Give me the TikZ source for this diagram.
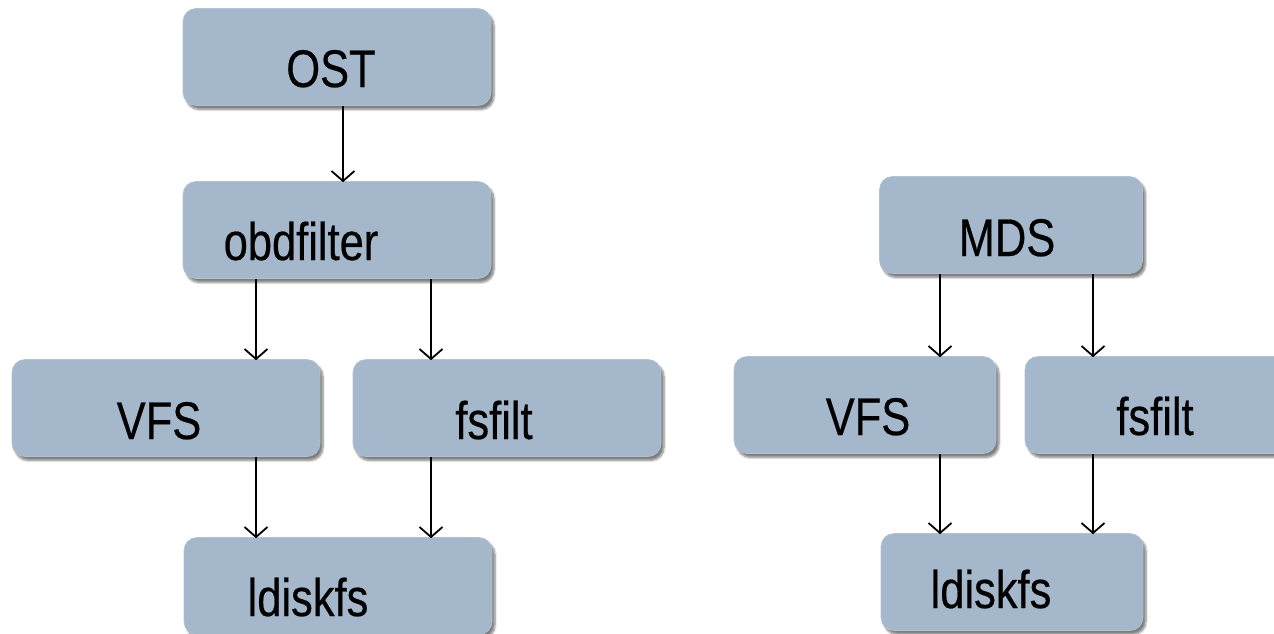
\documentclass[tikz,border=0pt]{standalone}
\usepackage{fontspec}
\setmainfont{Liberation Sans}[FakeStretch=0.82,FakeBold=0.4]
\usetikzlibrary{arrows.meta,shadows.blur}
\definecolor{boxfill}{RGB}{164,183,203}
\begin{document}
\begin{tikzpicture}[x=1pt,y=-1pt,
  blk/.style={rounded corners=13pt, fill=boxfill, draw=boxfill!85!white, line width=0.6pt,
    minimum height=97pt, inner sep=0pt,
    blur shadow={shadow xshift=3pt, shadow yshift=-4pt, shadow blur steps=6, shadow opacity=50}},
  lbl/.style={anchor=base, inner sep=0pt, font=\fontsize{53}{58}\selectfont},
  arr/.style={line width=1.8pt, -{Straight Barb[length=10pt,width=23pt,line width=1.8pt]}}]
\useasboundingbox (0,0) rectangle (1274,634);
% left group
\node[blk, minimum width=308pt] (ost) at (337,57) {};
\node[blk, minimum width=308pt] (obd) at (337,230) {};
\node[blk, minimum width=308pt] (vfsL) at (166,408) {};
\node[blk, minimum width=308pt] (fsL) at (507,408) {};
\node[blk, minimum width=308pt] (ldL) at (338,586) {};
% right group
\node[blk, minimum width=263pt] (mds) at (1011,225) {};
\node[blk, minimum width=262pt] (vfsR) at (865,405) {};
\node[blk, minimum width=262pt] (fsR) at (1156,405) {};
\node[blk, minimum width=262pt] (ldR) at (1012,582) {};
% texts
\node[lbl] (tost) at (331,87) {OST};
\node[lbl] (tobd) at (301,260) {obdfilter};
\node[lbl] (tvfsL) at (159,439) {VFS};
\node[lbl] (tfsL) at (494,439) {fsfilt};
\node[lbl] (tldL) at (308,616) {ldiskfs};
\node[lbl] (tmds) at (1007,256) {MDS};
\node[lbl] (tvfsR) at (868,435) {VFS};
\node[lbl] (tfsR) at (1155,435) {fsfilt};
\node[lbl] (tldR) at (991,608) {ldiskfs};
% x positions of connectors
\coordinate (xa) at (343,0);
\coordinate (xb) at (256,0);
\coordinate (xc) at (431,0);
\coordinate (xd) at (940,0);
\coordinate (xe) at (1093,0);
% connectors
\draw[arr] (ost.south -| xa) -- ([yshift=-1pt]obd.north -| xa);
\draw[arr] (obd.south -| xb) -- ([yshift=-1pt]vfsL.north -| xb);
\draw[arr] (obd.south -| xc) -- ([yshift=-1pt]fsL.north -| xc);
\draw[arr] (vfsL.south -| xb) -- ([yshift=-1pt]ldL.north -| xb);
\draw[arr] (fsL.south -| xc) -- ([yshift=-1pt]ldL.north -| xc);
\draw[arr] (mds.south -| xd) -- ([yshift=-1pt]vfsR.north -| xd);
\draw[arr] (mds.south -| xe) -- ([yshift=-1pt]fsR.north -| xe);
\draw[arr] (vfsR.south -| xd) -- ([yshift=-1pt]ldR.north -| xd);
\draw[arr] (fsR.south -| xe) -- ([yshift=-1pt]ldR.north -| xe);
\end{tikzpicture}
\end{document}
